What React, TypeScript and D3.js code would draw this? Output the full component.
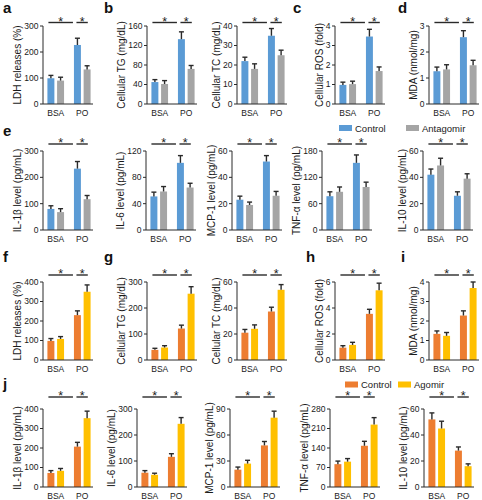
import React from "react";
import * as d3 from "d3";

const groups = ["BSA", "PO"];
const treatments = ["ctrl", "trt"];

const legendTop = ["Control", "Antagomir"];
const legendBottom = ["Control", "Agomir"];
const colorsTop = ["#5B9BD5", "#A5A5A5"];
const colorsBottom = ["#ED7D31", "#FFC000"];

// values: [BSA-Control, BSA-treated, PO-Control, PO-treated]
const ldhAnta = [99, 90, 227, 133];
const ldhAntaErr = [11, 13, 26, 14];
const tgAnta = [45, 41, 133, 72];
const tgAntaErr = [5, 7, 15, 7];
const tcAnta = [22, 18, 35, 25];
const tcAntaErr = [2, 2.6, 3.7, 2.6];
const rosAnta = [0.98, 1.02, 3.46, 1.69];
const rosAntaErr = [0.14, 0.15, 0.37, 0.21];
const mdaAnta = [1.26, 1.33, 2.57, 1.49];
const mdaAntaErr = [0.16, 0.18, 0.25, 0.19];
const il1bAnta = [80, 68, 233, 117];
const il1bAntaErr = [12, 13, 27, 14];
const il6Anta = [51, 58.5, 102, 64.5];
const il6AntaErr = [6.5, 7.5, 11, 6.5];
const mcp1Anta = [23, 19, 52, 26];
const mcp1AntaErr = [2.7, 2.2, 4.5, 3.3];
const tnfAnta = [77, 87, 153, 98];
const tnfAntaErr = [10, 11, 18, 11];
const il10Anta = [42, 49, 26, 39];
const il10AntaErr = [4.3, 5.5, 3, 3.7];

const ldhAgo = [98, 108, 230, 350];
const ldhAgoErr = [12, 12, 22, 35];
const tgAgo = [39, 48, 121, 255];
const tgAgoErr = [6, 7, 13, 27];
const tcAgo = [21, 24, 37.3, 54];
const tcAgoErr = [2.5, 3, 3.3, 4];
const rosAgo = [0.95, 1.16, 3.55, 5.36];
const rosAgoErr = [0.15, 0.2, 0.35, 0.55];
const mdaAgo = [1.34, 1.24, 2.28, 3.69];
const mdaAgoErr = [0.15, 0.17, 0.24, 0.31];
const il1bAgo = [72, 83, 207, 353];
const il1bAgoErr = [12, 12, 22, 36];
const il6Ago = [55, 47, 116, 243];
const il6AgoErr = [8, 6, 12, 24];
const mcp1Ago = [20, 27, 48, 80];
const mcp1AgoErr = [3, 3.8, 4.5, 7.5];
const tnfAgo = [82, 91, 148, 224];
const tnfAgoErr = [11, 11, 16, 25];
const il10Ago = [52, 45, 28, 16];
const il10AgoErr = [5, 5.6, 2.8, 1.8];

const ticks300 = [0, 100, 200, 300];
const ticks160 = [0, 40, 80, 120, 160];
const ticks40 = [0, 10, 20, 30, 40];
const ticks4 = [0, 1, 2, 3, 4];
const ticks3 = [0, 1, 2, 3];
const ticks120 = [0, 40, 80, 120];
const ticks60 = [0, 20, 40, 60];
const ticks180 = [0, 60, 120, 180];
const ticks400 = [0, 100, 200, 300, 400];
const ticks6 = [0, 2, 4, 6];
const ticks90 = [0, 30, 60, 90];
const ticks280 = [0, 70, 140, 210, 280];

const titleLDH = "LDH releases (%)";
const titleTG = "Cellular TG (mg/dL)";
const titleTC = "Cellular TC (mg/dL)";
const titleROS = "Cellular ROS (fold)";
const titleMDA = "MDA (nmol/mg)";
const titleIL1b = "IL-1β level (pg/mL)";
const titleIL6 = "IL-6 level (pg/mL)";
const titleMCP1 = "MCP-1 level (pg/mL)";
const titleTNF = "TNF-α level (pg/mL)";
const titleIL10 = "IL-10 level (pg/mL)";

const panelLetters = ["a", "b", "c", "d", "e", "f", "g", "h", "i", "j"];

// layout
const rows = [
  { top: 26, zero: 104, sigY: 22.5, axes: [43, 147, 237, 335, 429] },
  { top: 151, zero: 230, sigY: 144, axes: [43, 146, 232, 322, 423] },
  { top: 282, zero: 360, sigY: 275, axes: [43, 147, 237, 335, 429] },
  { top: 409, zero: 487, sigY: 397, axes: [43, 137, 230, 330, 424] },
];
const letterPos = [
  [3, 13], [104, 13], [293, 13], [398, 13],
  [3, 136],
  [3, 262], [104, 262], [306, 262], [401, 262],
  [3, 389],
];

const panels = [
  { row: 0, col: 0, title: titleLDH, vals: ldhAnta, errs: ldhAntaErr, ticks: ticks300, colors: colorsTop },
  { row: 0, col: 1, title: titleTG, vals: tgAnta, errs: tgAntaErr, ticks: ticks160, colors: colorsTop },
  { row: 0, col: 2, title: titleTC, vals: tcAnta, errs: tcAntaErr, ticks: ticks40, colors: colorsTop },
  { row: 0, col: 3, title: titleROS, vals: rosAnta, errs: rosAntaErr, ticks: ticks4, colors: colorsTop },
  { row: 0, col: 4, title: titleMDA, vals: mdaAnta, errs: mdaAntaErr, ticks: ticks3, colors: colorsTop },
  { row: 1, col: 0, title: titleIL1b, vals: il1bAnta, errs: il1bAntaErr, ticks: ticks300, colors: colorsTop },
  { row: 1, col: 1, title: titleIL6, vals: il6Anta, errs: il6AntaErr, ticks: ticks120, colors: colorsTop },
  { row: 1, col: 2, title: titleMCP1, vals: mcp1Anta, errs: mcp1AntaErr, ticks: ticks60, colors: colorsTop },
  { row: 1, col: 3, title: titleTNF, vals: tnfAnta, errs: tnfAntaErr, ticks: ticks180, colors: colorsTop },
  { row: 1, col: 4, title: titleIL10, vals: il10Anta, errs: il10AntaErr, ticks: ticks60, colors: colorsTop },
  { row: 2, col: 0, title: titleLDH, vals: ldhAgo, errs: ldhAgoErr, ticks: ticks400, colors: colorsBottom },
  { row: 2, col: 1, title: titleTG, vals: tgAgo, errs: tgAgoErr, ticks: ticks300, colors: colorsBottom },
  { row: 2, col: 2, title: titleTC, vals: tcAgo, errs: tcAgoErr, ticks: ticks60, colors: colorsBottom },
  { row: 2, col: 3, title: titleROS, vals: rosAgo, errs: rosAgoErr, ticks: ticks6, colors: colorsBottom },
  { row: 2, col: 4, title: titleMDA, vals: mdaAgo, errs: mdaAgoErr, ticks: ticks4, colors: colorsBottom },
  { row: 3, col: 0, title: titleIL1b, vals: il1bAgo, errs: il1bAgoErr, ticks: ticks400, colors: colorsBottom },
  { row: 3, col: 1, title: titleIL6, vals: il6Ago, errs: il6AgoErr, ticks: ticks300, colors: colorsBottom },
  { row: 3, col: 2, title: titleMCP1, vals: mcp1Ago, errs: mcp1AgoErr, ticks: ticks90, colors: colorsBottom },
  { row: 3, col: 3, title: titleTNF, vals: tnfAgo, errs: tnfAgoErr, ticks: ticks280, colors: colorsBottom },
  { row: 3, col: 4, title: titleIL10, vals: il10Ago, errs: il10AgoErr, ticks: ticks60, colors: colorsBottom },
];

const FONT = "'Liberation Sans', Arial, Helvetica, sans-serif";
const INK = "#1a1a1a";
const AXIS = "#2a2a2a";

function Panel({ p }: { p: any }) {
  const r = rows[p.row];
  const ax = r.axes[p.col];
  const maxT = p.ticks[p.ticks.length - 1];
  const y = d3.scaleLinear().domain([0, maxT]).range([r.zero, r.top]);
  const x0 = d3.scaleBand().domain(groups).range([ax, ax + 52]).paddingInner(0.3).paddingOuter(0.13);
  const x1 = d3.scaleBand().domain(treatments).range([0, x0.bandwidth()]).paddingInner(0.28).paddingOuter(0.1);
  const bw = x1.bandwidth();
  const labelChars = d3.max(p.ticks, (t: number) => String(t).length) as number;
  const titleX = ax - 5 - labelChars * 4.7 - 6;
  const titleY = (r.top + r.zero) / 2;

  const bars: any[] = [];
  groups.forEach((g, gi) => {
    treatments.forEach((t, ti) => {
      const idx = gi * 2 + ti;
      bars.push({ x: (x0(g) as number) + (x1(t) as number), v: p.vals[idx], e: p.errs[idx], c: p.colors[ti] });
    });
  });
  const bCtrl = bars[0].x, pCtrl = bars[2].x, pTrt = bars[3].x;
  const s1 = [bCtrl + 1, pCtrl - 1];
  const s2 = [pCtrl + 2.5, pTrt + bw * 0.6];

  return (
    <g>
      {bars.map((b, i) => (
        <rect key={"b" + i} x={b.x} y={y(b.v)} width={bw} height={r.zero - y(b.v)} fill={b.c} />
      ))}
      {bars.map((b, i) => {
        const cx = b.x + bw / 2;
        return (
          <g key={"e" + i} stroke={AXIS} strokeWidth={1.4}>
            <line x1={cx} x2={cx} y1={y(b.v)} y2={y(b.v + b.e)} />
            <line x1={cx - 2.5} x2={cx + 2.5} y1={y(b.v + b.e)} y2={y(b.v + b.e)} />
          </g>
        );
      })}
      <line x1={ax} x2={ax} y1={y(maxT)} y2={r.zero} stroke={AXIS} strokeWidth={1} />
      <line x1={ax} x2={ax + 50} y1={r.zero} y2={r.zero} stroke={AXIS} strokeWidth={1} />
      {p.ticks.map((t: number) => (
        <g key={"t" + t}>
          <line x1={ax - 3} x2={ax} y1={y(t)} y2={y(t)} stroke={AXIS} strokeWidth={1} />
          <text x={ax - 4.5} y={y(t)} dy="0.34em" textAnchor="end" fontSize={8.5} fill={INK} fontFamily={FONT}>
            {String(t)}
          </text>
        </g>
      ))}
      {groups.map((g) => (
        <text key={g} x={(x0(g) as number) + x0.bandwidth() / 2} y={r.zero + 12} textAnchor="middle" fontSize={8.5} fill={INK} fontFamily={FONT}>
          {g}
        </text>
      ))}
      <text transform={`translate(${titleX},${titleY}) rotate(-90)`} dy="0.35em" textAnchor="middle" fontSize={10} fill={INK} fontFamily={FONT}>
        {p.title}
      </text>
      {[s1, s2].map((s, i) => (
        <g key={"s" + i}>
          <line x1={s[0]} x2={s[1]} y1={r.sigY} y2={r.sigY} stroke={AXIS} strokeWidth={1.4} />
          <text x={(s[0] + s[1]) / 2} y={r.sigY + 3} textAnchor="middle" fontSize={12.5} fill={INK} fontFamily={FONT}>
            *
          </text>
        </g>
      ))}
    </g>
  );
}

function Legend({ x, y, labels, colors, gap }: any) {
  return (
    <g>
      {labels.map((l: string, i: number) => {
        const lx = x + i * gap;
        return (
          <g key={l}>
            <rect x={lx} y={y - 6.5} width={13} height={6} fill={colors[i]} />
            <text x={lx + 16} y={y} fontSize={9.5} fill={INK} fontFamily={FONT}>
              {l}
            </text>
          </g>
        );
      })}
    </g>
  );
}

export default function App() {
  return (
    <svg width={482} height={500} style={{ position: "absolute", left: 0, top: 0, background: "#fff" }}>
      <rect x={0} y={0} width={482} height={500} fill="#fff" />
      {panelLetters.map((l, i) => (
        <text key={l} x={letterPos[i][0]} y={letterPos[i][1]} fontSize={15} fontWeight="bold" fill="#111" fontFamily={FONT}>
          {l}
        </text>
      ))}
      {panels.map((p, i) => (
        <Panel key={i} p={p} />
      ))}
      <Legend x={339} y={131.5} labels={legendTop} colors={colorsTop} gap={67} />
      <Legend x={345} y={388} labels={legendBottom} colors={colorsBottom} gap={53} />
    </svg>
  );
}
